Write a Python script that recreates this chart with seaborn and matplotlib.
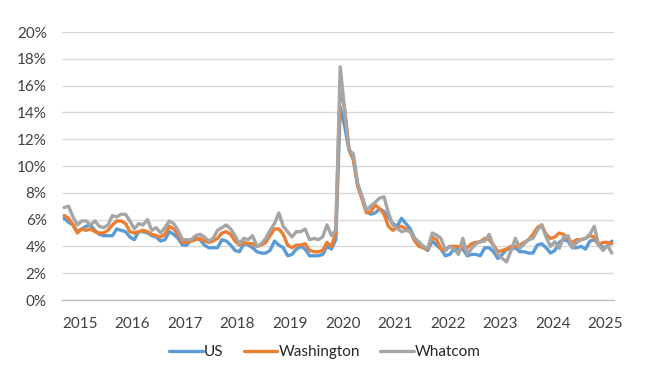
import pandas as pd
import matplotlib
matplotlib.use('Agg')
import matplotlib.pyplot as plt
import seaborn as sns
import numpy as np
from matplotlib.ticker import PercentFormatter, MultipleLocator

# Monthly unemployment rate (%), not seasonally adjusted, Jan 2015 - Jun 2025
us = [6.1, 5.8, 5.6, 5.1, 5.3, 5.5, 5.6, 5.2, 4.9, 4.8, 4.8, 4.8,
      5.3, 5.2, 5.1, 4.7, 4.5, 5.1, 5.1, 5.0, 4.8, 4.7, 4.4, 4.5,
      5.1, 4.9, 4.6, 4.1, 4.1, 4.5, 4.6, 4.5, 4.1, 3.9, 3.9, 3.9,
      4.5, 4.4, 4.1, 3.7, 3.6, 4.2, 4.1, 3.9, 3.6, 3.5, 3.5, 3.7,
      4.4, 4.1, 3.9, 3.3, 3.4, 3.8, 4.0, 3.8, 3.3, 3.3, 3.3, 3.4,
      4.0, 3.8, 4.5, 14.4, 13.0, 11.2, 10.5, 8.5, 7.7, 6.6, 6.4, 6.5,
      6.8, 6.6, 6.2, 5.7, 5.5, 6.1, 5.7, 5.3, 4.6, 4.3, 3.9, 3.7,
      4.4, 4.1, 3.8, 3.3, 3.4, 3.8, 3.8, 3.8, 3.3, 3.4, 3.4, 3.3,
      3.9, 3.9, 3.6, 3.1, 3.4, 3.8, 3.8, 3.9, 3.6, 3.6, 3.5, 3.5,
      4.1, 4.2, 3.9, 3.5, 3.7, 4.3, 4.5, 4.4, 3.9, 3.9, 4.0, 3.8,
      4.4, 4.5, 4.2, 3.9, 4.0, 4.4]

washington = [6.3, 6.1, 5.6, 5.0, 5.3, 5.2, 5.3, 5.1, 5.0, 5.0, 5.2, 5.6,
              5.9, 5.9, 5.7, 5.1, 5.0, 5.1, 5.2, 5.1, 4.9, 4.8, 4.7, 4.9,
              5.5, 5.3, 4.9, 4.3, 4.3, 4.4, 4.5, 4.6, 4.4, 4.3, 4.4, 4.6,
              5.0, 5.1, 4.9, 4.4, 4.1, 4.3, 4.2, 4.2, 4.0, 4.1, 4.3, 4.8,
              5.3, 5.3, 4.9, 4.1, 3.9, 4.1, 4.1, 4.2, 3.7, 3.6, 3.6, 3.7,
              4.3, 4.0, 5.0, 16.0, 14.3, 11.3, 10.5, 8.5, 7.5, 6.5, 6.6, 7.1,
              6.8, 6.4, 5.5, 5.2, 5.4, 5.5, 5.3, 5.1, 4.4, 4.0, 3.9, 3.8,
              4.7, 4.5, 3.8, 3.7, 4.0, 4.0, 4.0, 3.9, 3.9, 4.2, 4.3, 4.35,
              4.6, 4.5, 4.1, 3.6, 3.7, 3.8, 4.0, 4.0, 4.1, 4.3, 4.5, 4.9,
              5.4, 5.6, 4.9, 4.6, 4.7, 5.0, 4.9, 4.5, 4.3, 4.5, 4.5, 4.6,
              4.8, 4.7, 4.1, 4.3, 4.3, 4.2]

whatcom = [6.9, 7.0, 6.2, 5.6, 5.9, 5.9, 5.6, 5.9, 5.5, 5.4, 5.6, 6.3,
           6.2, 6.4, 6.4, 5.9, 5.3, 5.7, 5.6, 6.0, 5.2, 5.4, 5.0, 5.4,
           5.9, 5.7, 5.2, 4.5, 4.5, 4.5, 4.8, 4.9, 4.7, 4.4, 4.6, 5.2,
           5.4, 5.6, 5.3, 4.8, 4.2, 4.6, 4.5, 4.8, 4.0, 4.2, 4.6, 5.2,
           5.7, 6.5, 5.5, 5.1, 4.7, 5.1, 5.1, 5.3, 4.5, 4.6, 4.5, 4.7,
           5.6, 4.8, 5.2, 17.4, 14.2, 11.2, 10.9, 8.7, 7.7, 6.7, 7.0, 7.3,
           7.6, 7.7, 6.5, 5.6, 5.35, 5.1, 5.2, 5.1, 4.6, 4.3, 4.0, 3.85,
           5.0, 4.85, 4.6, 3.7, 4.0, 3.8, 3.4, 4.6, 3.4, 3.85, 4.2, 4.35,
           4.4, 4.9, 4.0, 3.4, 3.1, 2.85, 3.7, 4.6, 3.85, 4.2, 4.5, 4.6,
           5.2, 5.6, 4.7, 4.0, 4.35, 3.85, 4.7, 4.8, 3.9, 4.3, 4.5, 4.6,
           4.9, 5.5, 4.1, 3.7, 4.1, 3.5]

years = [str(y) for y in range(2015, 2026)]

sns.set_theme(style="white")
plt.rcParams['font.family'] = ['Lato', 'DejaVu Sans']

months = np.arange(len(us)) + 0.5  # points sit between monthly ticks
df = pd.DataFrame({'month': months, 'US': us, 'Washington': washington, 'Whatcom': whatcom})
long_df = df.melt(id_vars='month', var_name='area', value_name='rate')

palette = {'US': '#5B9BD5', 'Washington': '#ED7D31', 'Whatcom': '#A5A5A5'}

fig = plt.figure(figsize=(6.5, 3.75), dpi=100)
ax = fig.add_axes([62 / 650, 1 - 300 / 375, (614 - 62) / 650, (300 - 32) / 375])

sns.lineplot(data=long_df, x='month', y='rate', hue='area', palette=palette,
             linewidth=2.4, ax=ax, legend=True)

ax.set_xlim(0, len(us))
ax.set_ylim(0, 20)
ax.yaxis.set_major_locator(MultipleLocator(2))
ax.yaxis.set_major_formatter(PercentFormatter(xmax=100, decimals=0))
ax.grid(axis='y', color='#D9D9D9', linewidth=1)
ax.set_axisbelow(True)

ax.set_xticks(np.arange(0, 121, 12))
ax.set_xticklabels(years)
ax.xaxis.set_minor_locator(MultipleLocator(1))
for lbl in ax.get_xticklabels():
    lbl.set_horizontalalignment('left')

ax.tick_params(axis='x', which='major', direction='in', length=6, width=1,
               color='#BFBFBF', pad=12, labelsize=11, labelcolor='#404040')
ax.tick_params(axis='x', which='minor', direction='in', length=3, width=0.8,
               color='#BFBFBF')
ax.tick_params(axis='y', length=0, pad=11, labelsize=11, labelcolor='#404040')

for side in ['top', 'right', 'left']:
    ax.spines[side].set_visible(False)
ax.spines['bottom'].set_color('#BFBFBF')
ax.spines['bottom'].set_linewidth(1)

ax.set_xlabel('')
ax.set_ylabel('')

handles, labels = ax.get_legend_handles_labels()
ax.get_legend().remove()
fig.legend(handles, labels, loc='center', bbox_to_anchor=(0.5, 0.061), ncol=3,
           frameon=False, fontsize=11, handlelength=2.2, handletextpad=0.1,
           columnspacing=1.3, labelcolor='#262626')

fig.savefig('out.png', dpi=100)
